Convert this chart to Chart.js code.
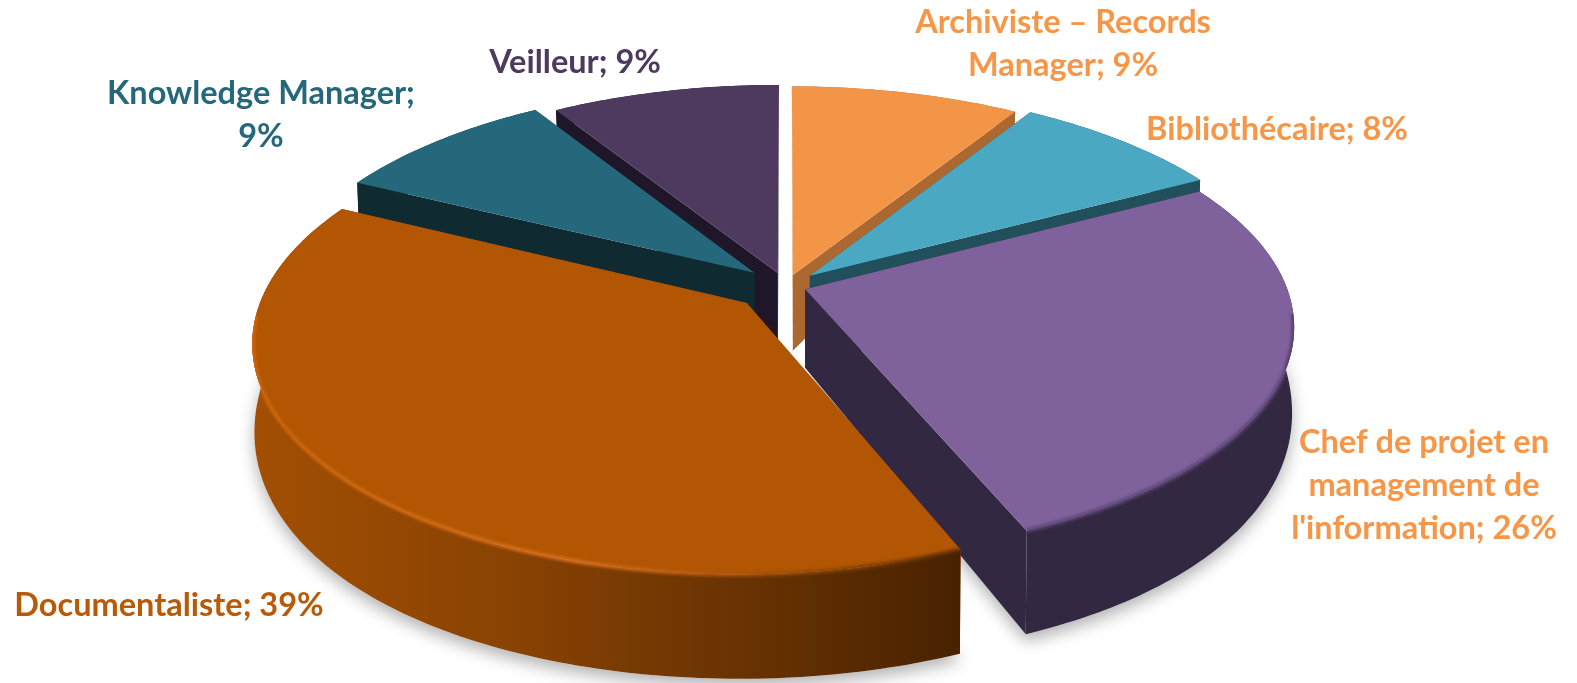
<!DOCTYPE html>
<html><head><meta charset="utf-8">
<style>html,body{margin:0;padding:0;background:#fff;overflow:hidden}canvas{display:block}</style>
<script src="https://cdn.jsdelivr.net/npm/chart.js@4"></script>
</head><body><canvas id="c" width="1577" height="683"></canvas>
<script>
const categories=["Archiviste – Records Manager","Bibliothécaire","Chef de projet en management de l'information","Documentaliste","Knowledge Manager","Veilleur"];
const shares=[8.9,8.3,26.5,38.6,8.8,8.9];
const labelLines=[["Archiviste – Records","Manager; 9%"],["Bibliothécaire; 8%"],["Chef de projet en","management de","l'information; 26%"],["Documentaliste; 39%"],["Knowledge Manager;","9%"],["Veilleur; 9%"]];
const topColors=["#F39547","#4AA8C2","#7F619C","#B25603","#26687B","#4D3A5E"];
const sideColors=["#AB6830","#224F5C","#332842","#8A4404","#102A31","#1F1629"];
const labelColors=["#F79646","#F79646","#F79646","#B85A08","#26687B","#4D3A5E"];
const explode=[32,42,26,68,55,38];
const anchors=[[1063,33,43],[1277,140,43],[1424,453,43],[169,616,43],[261,104,43],[575,73,43]];
const paintOrder=[5,4,0,1,2,3];
const cam={cx:786,cy:286,rx:481,ry:222,p:0.16};
function depth(v){return 78+46*v-20*v*v;}
function proj(u,v,z){const s=1/(1-cam.p*v);return [cam.cx+cam.rx*u*s*(1-0.004*z),cam.cy+cam.ry*v*s+z*depth(v)];}
function poly(ctx,pts){ctx.beginPath();pts.forEach((p,i)=>i?ctx.lineTo(p[0],p[1]):ctx.moveTo(p[0],p[1]));ctx.closePath();}
function line(ctx,pts){ctx.beginPath();pts.forEach((p,i)=>i?ctx.lineTo(p[0],p[1]):ctx.moveTo(p[0],p[1]));}
const pie3d={id:'pie3d',beforeDatasetsDraw(chart){
  const ctx=chart.ctx,meta=chart.getDatasetMeta(0);
  const built=meta.data.map((arc,i)=>{
    const g=arc.getProps(['startAngle','endAngle','outerRadius']),R=g.outerRadius;
    const o=arc.options.offset/R,mid=(g.startAngle+g.endAngle)/2;
    const ou=o*Math.cos(mid)*0.5,ov=o*Math.sin(mid)*0.5;
    const top=[],bot=[],front=[];
    const n=Math.ceil((g.endAngle-g.startAngle)*60);
    for(let k=0;k<=n;k++){const a=g.startAngle+(g.endAngle-g.startAngle)*k/n;
      const u=ou+Math.cos(a),v=ov+Math.sin(a),t=proj(u,v,0);top.push(t);bot.push(proj(u,v,1));
      if(v>0.12)front.push(t);}
    return {top,bot,front,vt:proj(ou,ov,0),vb:proj(ou,ov,1)};
  });
  ctx.save();
  ctx.shadowColor='rgba(0,0,0,0.3)';ctx.shadowBlur=16;ctx.shadowOffsetX=0;ctx.shadowOffsetY=7;
  paintOrder.forEach(i=>{if(i===2||i===3){const b=built[i];ctx.fillStyle='#fff';poly(ctx,[b.vb].concat(b.bot));ctx.fill();}});
  ctx.restore();
  paintOrder.forEach(i=>{
    const b=built[i];
    const a=b.top[0],c=b.top[b.top.length-1],a2=b.bot[0],c2=b.bot[b.bot.length-1];
    ctx.fillStyle=sideColors[i];
    poly(ctx,[b.vt,a,a2,b.vb]);ctx.fill();
    poly(ctx,[b.vt,c,c2,b.vb]);ctx.fill();
    let wall=sideColors[i];
    if(i===3){wall=ctx.createLinearGradient(255,0,960,0);
      wall.addColorStop(0,'#A24F03');wall.addColorStop(0.35,'#8A4303');wall.addColorStop(0.7,'#683203');wall.addColorStop(1,'#482200');}
    const wallPoly=b.top.concat(b.bot.slice().reverse()),topPoly=[b.vt].concat(b.top);
    ctx.fillStyle=wall;poly(ctx,wallPoly);ctx.fill();
    ctx.fillStyle=topColors[i];poly(ctx,topPoly);ctx.fill();
    if(i===2||i===3){
      let rim;
      if(i===3){rim=ctx.createLinearGradient(255,0,960,0);
        rim.addColorStop(0,'#CC6408');rim.addColorStop(0.45,'#D8701A');rim.addColorStop(0.7,'#A85208');rim.addColorStop(1,'#5A2C02');}
      else rim='#5A4472';
      [wallPoly,topPoly].forEach(shape=>{
        ctx.save();poly(ctx,shape);ctx.clip();
        ctx.strokeStyle=rim;ctx.lineWidth=4;ctx.filter='blur(1.5px)';
        line(ctx,b.front);ctx.stroke();ctx.restore();
      });
    }
  });
  ctx.save();ctx.textAlign='center';ctx.textBaseline='alphabetic';ctx.font='bold 32.5px Lato';
  labelLines.forEach((ls,i)=>{ctx.fillStyle=labelColors[i];
    ls.forEach((t,k)=>ctx.fillText(t,anchors[i][0],anchors[i][1]+k*anchors[i][2]));});
  ctx.restore();
  return false;
}};
new Chart(document.getElementById('c'),{type:'pie',
  data:{labels:categories,datasets:[{data:shares,backgroundColor:topColors,offset:explode,borderWidth:0}]},
  options:{responsive:false,animation:false,layout:{padding:0},plugins:{legend:{display:false},tooltip:{enabled:false}}},
  plugins:[pie3d]});
</script></body></html>
